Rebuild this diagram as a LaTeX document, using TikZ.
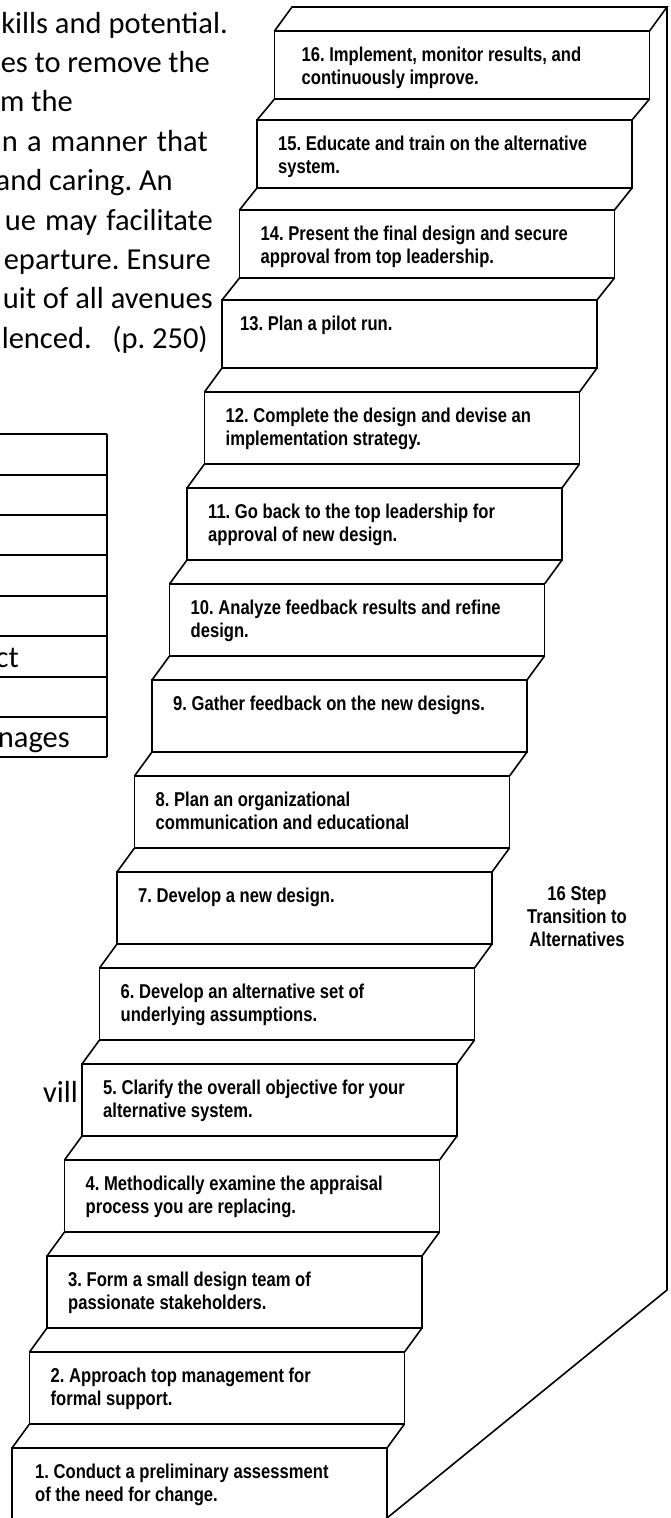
\documentclass[tikz,border=0pt]{standalone}
\usepackage{fontspec}
\newfontfamily\pagefont{Carlito}
\newfontfamily\stepfont[FakeStretch=0.83]{Liberation Sans}
\frenchspacing
% one stair: [text indent] name, left x, top y, height, label lines
\newcommand\stairstep[6][21]{%
  \node[stepbox, minimum height=#5pt] (s#2) at (#3,#4) {};
  \node[steptext] (t#2) at ([shift={(#1pt,-30pt)}]s#2.north west)
    {\begin{tabular}[t]{@{}l@{}}#6\end{tabular}};
}
% a justified line of the page text, spread to a given width
\newcommand\pageline[2]{\makebox[#1pt][s]{#2}}
\begin{document}
\begin{tikzpicture}[x=1pt,y=-1pt,
  stepbox/.style={draw, line width=1.6pt, fill=white, minimum width=375pt,
    inner sep=0pt, outer sep=0pt, anchor=north west},
  steptext/.style={font=\stepfont\bfseries\fontsize{20}{23}\selectfont,
    inner sep=0pt, anchor=base west},
  stepline/.style={line width=1.6pt, line join=miter},
  pagetext/.style={font=\pagefont\fontsize{30.5}{39.5}\selectfont,
    inner sep=0pt, anchor=base east},
  rule/.style={line width=1.5pt}]
\useasboundingbox (0,0) rectangle (671,1518);
\clip (0,0) rectangle (671,1518);
\fill[white] (0,0) rectangle (671,1518);

% page text running behind the figure
\node[pagetext] (p1) at (228,33)  {kills and potential.};
\node[pagetext] (p2) at (210,72)  {\pageline{209}{es to remove the}};
\node[pagetext] (p3) at (73,111)  {m the};
\node[pagetext] (p4) at (208,151) {\pageline{206}{n a manner that}};
\node[pagetext] (p5) at (173,190) {and caring. An};
\node[pagetext] (p6) at (213,230) {\pageline{208}{ue may facilitate}};
\node[pagetext] (p7) at (211,269) {\pageline{207}{eparture. Ensure}};
\node[pagetext] (p8) at (213,308) {\pageline{210}{uit of all avenues}};
\node[pagetext] (p9) at (208,348) {\makebox[206pt][s]{lenced.\hfill(p.~250)}};
\node[pagetext] (p10) at (78,1102) {vill};

% table fragment
\foreach \yy in {434,475,515,555,596,636,677,717,757}
  \draw[rule] (-10,\yy) -- (107,\yy);
\draw[rule] (107,434) -- (107,757);
\node[pagetext] (c6) at (19,667) {ct};
\node[pagetext] (c8) at (70,747) {nages};

% the stairs, bottom to top
\stairstep[23]{1}{12}{1448}{90}{1. Conduct a preliminary assessment\\of the need for change.}
\stairstep{2}{29.5}{1352}{72}{2. Approach top management for\\formal support.}
\stairstep{3}{47}{1256}{72}{3. Form a small design team of\\passionate stakeholders.}
\stairstep{4}{64.5}{1160}{72}{4. Methodically examine the appraisal\\process you are replacing.}
\stairstep{5}{82}{1064}{72}{5. Clarify the overall objective for your\\alternative system.}
\stairstep{6}{99.5}{968}{72}{6. Develop an alternative set of\\underlying assumptions.}
\stairstep{7}{117}{872}{72}{7. Develop a new design.}
\stairstep{8}{134.5}{776}{72}{8. Plan an organizational\\communication and educational}
\stairstep{9}{152}{680}{72}{9. Gather feedback on the new designs.}
\stairstep{10}{169.5}{584}{72}{10. Analyze feedback results and refine\\design.}
\stairstep{11}{187}{488}{72}{11. Go back to the top leadership for\\approval of new design.}
\stairstep{12}{204.5}{392}{72}{12. Complete the design and devise an\\implementation strategy.}
\stairstep[18]{13}{222}{300}{68}{13. Plan a pilot run.}
\stairstep{14}{239.5}{210}{68}{14. Present the final design and secure\\approval from top leadership.}
\stairstep{15}{257}{120}{68}{15. Educate and train on the alternative\\system.}
\stairstep[27]{16}{274.5}{31}{68}{16. Implement, monitor results, and\\continuously improve.}

% treads between neighbouring stairs
\foreach \k [evaluate=\k as \n using int(\k+1)] in {1,...,15} {
  \draw[stepline] (s\k.north west) -- (s\n.south west);
  \draw[stepline] (s\k.north east) -- (s\n.south east);
}

% top tread and the side wall
\coordinate (topl) at (292,7);
\coordinate (topr) at (667,7);
\coordinate (knee) at (667,1290);
\coordinate (foot) at (387,1518);
\draw[stepline] (s16.north west) -- (topl) -- (topr) -- (s16.north east);
\draw[stepline] (topr) -- (knee) -- (foot);

\node[steptext, anchor=base] (lbl) at (577,900)
  {\begin{tabular}[t]{@{}c@{}}16 Step\\Transition to\\Alternatives\end{tabular}};
\end{tikzpicture}
\end{document}
